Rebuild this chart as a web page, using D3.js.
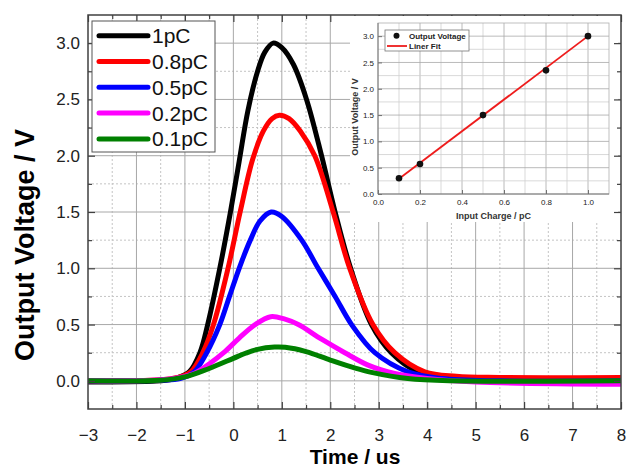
<!DOCTYPE html>
<html>
<head>
<meta charset="utf-8">
<script src="https://d3js.org/d3.v7.min.js"></script>
<style>
  body { margin: 0; background: #fff; }
  svg { font-family: "Liberation Sans", Arial, sans-serif; }
  .tick text { fill: #222; }
  .axis path.domain { display: none; }
  .axis line { stroke: #404040; stroke-width: 1.2; }
  .inset .axis line { stroke: #555; stroke-width: 0.8; }
</style>
</head>
<body>
<svg width="633" height="467"></svg>

<script>
// main chart: pulse shape for each input charge
var series = ["1pC", "0.8pC", "0.5pC", "0.2pC", "0.1pC"];
var colors = ["#000000", "#ff0000", "#0000ff", "#ff00ff", "#008000"];

var time1pC = [-3, -1.5, -1.2, -0.91, -0.69, -0.53, -0.28, -0.06, 0.12, 0.3, 0.5, 0.65, 0.82, 1.0, 1.24, 1.51, 1.82, 2.10, 2.42, 2.85, 3.26, 3.81, 4.5, 5.5, 8];
var volt1pC = [-0.01, 0.0, 0.02, 0.08, 0.25, 0.5, 1.0, 1.5, 1.95, 2.4, 2.75, 2.92, 3.0, 2.96, 2.81, 2.5, 2.0, 1.5, 1.0, 0.5, 0.25, 0.08, 0.02, 0.0, -0.01];

var time08pC = [-3, -1.5, -1.15, -0.88, -0.63, -0.41, -0.11, 0.14, 0.4, 0.62, 0.8, 0.95, 1.15, 1.38, 1.68, 2.06, 2.40, 2.88, 3.33, 3.95, 4.6, 5.5, 8];
var volt08pC = [0.0, 0.01, 0.03, 0.08, 0.25, 0.5, 1.0, 1.5, 1.97, 2.22, 2.33, 2.36, 2.33, 2.22, 2.0, 1.5, 1.0, 0.5, 0.25, 0.08, 0.04, 0.03, 0.03];

var time05pC = [-3, -1.5, -1.1, -0.81, -0.55, -0.28, -0.08, 0.12, 0.35, 0.55, 0.78, 1.0, 1.41, 1.75, 2.10, 2.44, 2.92, 3.6, 4.3, 5.5, 8];
var volt05pC = [0.0, 0.005, 0.02, 0.08, 0.25, 0.5, 0.75, 1.0, 1.25, 1.42, 1.5, 1.46, 1.25, 1.0, 0.75, 0.5, 0.25, 0.08, 0.02, 0.0, 0.0];

var time02pC = [-3, -1.5, -1.0, -0.81, -0.5, -0.2, 0.12, 0.45, 0.77, 1.05, 1.34, 1.82, 2.30, 2.78, 3.33, 4.0, 5.0, 8];
var volt02pC = [0.0, 0.01, 0.04, 0.065, 0.15, 0.25, 0.38, 0.5, 0.57, 0.55, 0.5, 0.37, 0.25, 0.14, 0.065, 0.02, -0.01, -0.03];

var time01pC = [-3, -1.5, -1.0, -0.5, 0.0, 0.25, 0.5, 0.85, 1.07, 1.5, 2.0, 2.5, 2.85, 3.6, 4.5, 8];
var volt01pC = [0.0, 0.005, 0.035, 0.11, 0.2, 0.245, 0.28, 0.30, 0.298, 0.26, 0.185, 0.115, 0.075, 0.02, 0.0, 0.0];

var xTicks = [-3, -2, -1, 0, 1, 2, 3, 4, 5, 6, 7, 8];
var yTicks = [0, 0.5, 1.0, 1.5, 2.0, 2.5, 3.0];

// inset: peak voltage vs input charge
var charge = [0.1, 0.2, 0.5, 0.8, 1.0];
var peakVolt = [0.3, 0.57, 1.5, 2.35, 3.0];
var fitCharge = [0.1, 1.0];
var fitVolt = [0.29, 3.0];
var insetXTicks = [0, 0.2, 0.4, 0.6, 0.8, 1.0];
var insetYTicks = [0, 0.5, 1.0, 1.5, 2.0, 2.5, 3.0];

var times = [time1pC, time08pC, time05pC, time02pC, time01pC];
var volts = [volt1pC, volt08pC, volt05pC, volt02pC, volt01pC];

var svg = d3.select("svg");

var x = d3.scaleLinear().domain([-3, 8]).range([88, 621]);
var y = d3.scaleLinear().domain([-0.25, 3.25]).range([409, 15]);

// grid
var grid = svg.append("g");
grid.selectAll(".vmin").data(d3.range(-2.5, 8, 1)).enter().append("line")
    .attr("x1", d => x(d)).attr("x2", d => x(d)).attr("y1", y(-0.25)).attr("y2", y(3.25))
    .attr("stroke", "#c4c4c4").attr("stroke-dasharray", "2,2");
grid.selectAll(".hmin").data(d3.range(0.25, 3.25, 0.5)).enter().append("line")
    .attr("x1", x(-3)).attr("x2", x(8)).attr("y1", d => y(d)).attr("y2", d => y(d))
    .attr("stroke", "#c4c4c4").attr("stroke-dasharray", "2,2");
grid.selectAll(".vmaj").data(xTicks.slice(1, -1)).enter().append("line")
    .attr("x1", d => x(d)).attr("x2", d => x(d)).attr("y1", y(-0.25)).attr("y2", y(3.25))
    .attr("stroke", "#a8a8a8");
grid.selectAll(".hmaj").data(yTicks).enter().append("line")
    .attr("x1", x(-3)).attr("x2", x(8)).attr("y1", d => y(d)).attr("y2", d => y(d))
    .attr("stroke", "#a8a8a8");

svg.append("clipPath").attr("id", "plot")
  .append("rect").attr("x", x(-3)).attr("y", y(3.25))
  .attr("width", x(8) - x(-3)).attr("height", y(-0.25) - y(3.25));

var line = d3.line()
    .x(d => x(d[0]))
    .y(d => y(d[1]))
    .curve(d3.curveCatmullRom.alpha(0.5));

svg.append("g").attr("clip-path", "url(#plot)")
  .selectAll("path").data(series).enter().append("path")
    .attr("d", (d, i) => line(d3.zip(times[i], volts[i])))
    .attr("fill", "none")
    .attr("stroke", (d, i) => colors[i])
    .attr("stroke-width", 5)
    .attr("stroke-linejoin", "round");

// axes, ticks pointing inward
function addAxis(axis, tx, ty) {
  return svg.append("g").attr("class", "axis").attr("transform", "translate(" + tx + "," + ty + ")").call(axis);
}
var xMinor = d3.range(-2.5, 8, 1);
var yMinor = d3.range(0.25, 3.25, 0.5);
addAxis(d3.axisBottom(x).tickValues(xTicks).tickSizeInner(-7).tickSizeOuter(0).tickPadding(20), 0, y(-0.25))
  .selectAll("text").attr("font-size", 17);
addAxis(d3.axisBottom(x).tickValues(xMinor).tickSize(-4).tickFormat(""), 0, y(-0.25));
addAxis(d3.axisTop(x).tickValues(xTicks).tickSize(-7).tickFormat(""), 0, y(3.25));
addAxis(d3.axisTop(x).tickValues(xMinor).tickSize(-4).tickFormat(""), 0, y(3.25));
addAxis(d3.axisLeft(y).tickValues(yTicks).tickSizeInner(-7).tickSizeOuter(0).tickPadding(8).tickFormat(d3.format(".1f")), x(-3), 0)
  .selectAll("text").attr("font-size", 17);
addAxis(d3.axisLeft(y).tickValues(yMinor).tickSize(-4).tickFormat(""), x(-3), 0);

// inset
var inset = svg.append("g").attr("class", "inset");
inset.append("rect").attr("x", 350).attr("y", 16).attr("width", 268).attr("height", 206).attr("fill", "#fff");

var ix = d3.scaleLinear().domain([0, 1.1]).range([378, 609]);
var iy = d3.scaleLinear().domain([0, 3.25]).range([194, 23]);

inset.selectAll(".ivg").data(d3.range(0.1, 1.05, 0.1)).enter().append("line")
    .attr("x1", d => ix(d)).attr("x2", d => ix(d)).attr("y1", iy(0)).attr("y2", iy(3.25))
    .attr("stroke", (d, i) => i % 2 ? "#a8a8a8" : "#cfcfcf").attr("stroke-width", 0.8);
inset.selectAll(".ihg").data(d3.range(0.25, 3.1, 0.25)).enter().append("line")
    .attr("x1", ix(0)).attr("x2", ix(1.1)).attr("y1", d => iy(d)).attr("y2", d => iy(d))
    .attr("stroke", (d, i) => i % 2 ? "#a8a8a8" : "#cfcfcf").attr("stroke-width", 0.8);
inset.append("rect").attr("x", ix(0)).attr("y", iy(3.25))
    .attr("width", ix(1.1) - ix(0)).attr("height", iy(0) - iy(3.25))
    .attr("fill", "none").attr("stroke", "#b0b0b0").attr("stroke-width", 0.8);

inset.append("path")
    .attr("d", d3.line().x(d => ix(d[0])).y(d => iy(d[1]))(d3.zip(fitCharge, fitVolt)))
    .attr("stroke", "#ee1c1c").attr("stroke-width", 1.8).attr("fill", "none");
inset.selectAll("circle").data(charge).enter().append("circle")
    .attr("cx", d => ix(d)).attr("cy", (d, i) => iy(peakVolt[i]))
    .attr("r", 3.3).attr("fill", "#111");

function addInsetAxis(axis, tx, ty) {
  return inset.append("g").attr("class", "axis").attr("transform", "translate(" + tx + "," + ty + ")").call(axis);
}
addInsetAxis(d3.axisBottom(ix).tickValues(insetXTicks).tickSizeInner(-4).tickSizeOuter(0).tickPadding(5).tickFormat(d3.format(".1f")), 0, iy(0))
  .selectAll("text").attr("font-size", 8).attr("fill", "#444");
addInsetAxis(d3.axisLeft(iy).tickValues(insetYTicks).tickSizeInner(-4).tickSizeOuter(0).tickPadding(4).tickFormat(d3.format(".1f")), ix(0), 0)
  .selectAll("text").attr("font-size", 8).attr("fill", "#444");
inset.append("line").attr("x1", ix(0)).attr("x2", ix(1.1)).attr("y1", iy(0)).attr("y2", iy(0)).attr("stroke", "#777");
inset.append("line").attr("x1", ix(0)).attr("x2", ix(0)).attr("y1", iy(0)).attr("y2", iy(3.25)).attr("stroke", "#777");

inset.append("text").attr("x", (ix(0) + ix(1.1)) / 2).attr("y", 219)
    .attr("text-anchor", "middle").attr("font-size", 9).attr("font-weight", "bold").attr("fill", "#333")
    .text("Input Charge / pC");
inset.append("text").attr("transform", "translate(358,117) rotate(-90)")
    .attr("text-anchor", "middle").attr("font-size", 9).attr("font-weight", "bold").attr("fill", "#333")
    .text("Output Voltage / V");

var ilg = inset.append("g");
ilg.append("rect").attr("x", 385).attr("y", 30).attr("width", 84).attr("height", 21)
    .attr("fill", "#fff").attr("stroke", "#777").attr("stroke-width", 0.8);
ilg.append("circle").attr("cx", 396.5).attr("cy", 35.7).attr("r", 3).attr("fill", "#111");
ilg.append("line").attr("x1", 387).attr("x2", 407).attr("y1", 46).attr("y2", 46)
    .attr("stroke", "#ee1c1c").attr("stroke-width", 1.8);
ilg.selectAll("text").data(["Output Voltage", "Liner Fit"]).enter().append("text")
    .attr("x", 409).attr("y", (d, i) => 38.5 + i * 10.5)
    .attr("font-size", 8).attr("font-weight", "bold").attr("fill", "#222")
    .text(d => d);

// right axis of main plot (drawn after the inset box)
addAxis(d3.axisRight(y).tickValues(yTicks).tickSize(-7).tickFormat(""), x(8), 0);
addAxis(d3.axisRight(y).tickValues(yMinor).tickSize(-4).tickFormat(""), x(8), 0);

svg.append("rect").attr("x", x(-3)).attr("y", y(3.25))
    .attr("width", x(8) - x(-3)).attr("height", y(-0.25) - y(3.25))
    .attr("fill", "none").attr("stroke", "#404040").attr("stroke-width", 1.5);

// legend
var lg = svg.append("g");
lg.append("rect").attr("x", 92).attr("y", 21).attr("width", 123).attr("height", 131)
    .attr("fill", "#fff").attr("stroke", "#555").attr("stroke-width", 1);
var rows = lg.selectAll(".row").data(series).enter().append("g")
    .attr("transform", (d, i) => "translate(0," + (35.7 + i * 25.8) + ")");
rows.append("line").attr("x1", 99).attr("x2", 148)
    .attr("stroke", (d, i) => colors[i]).attr("stroke-width", 5).attr("stroke-linecap", "round");
rows.append("text").attr("x", 152).attr("y", 7.5).attr("font-size", 21).attr("fill", "#111").text(d => d);

// axis titles
svg.append("text").attr("x", 355).attr("y", 464).attr("text-anchor", "middle")
    .attr("font-size", 21).attr("font-weight", "bold").text("Time / us");
svg.append("text").attr("transform", "translate(34,245) rotate(-90)").attr("text-anchor", "middle")
    .attr("font-size", 27).attr("font-weight", "bold").text("Output Voltage / V");
</script>
</body>
</html>
